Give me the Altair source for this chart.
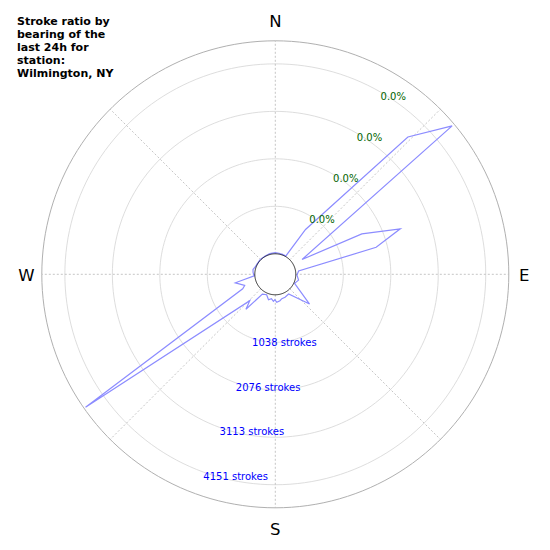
import altair as alt
import pandas as pd

# ---- data ----
bearings = [0, 10, 20, 30, 34, 44, 50, 61, 65, 70, 75, 82, 92, 104, 115, 131, 146,
            157, 165, 170, 177, 181, 184, 189, 195, 203, 213, 220, 224, 235, 246,
            250, 258, 266, 275, 282, 290, 300, 315, 330, 345, 360]
strokes = [25, 20, 15, 15, 734, 3723, 4597, 221, 1639, 2458, 1834, 66, 26, 76, 17, 544, 72,
           98, 103, 138, 164, 107, 144, 92, 127, 37, 70, 550, 355, 4615, 332,
           264, 446, 15, 40, 50, 20, 10, 15, 10, 20, 25]

ring_values = [1038, 2076, 3113, 4151]
ring_labels = ["1038 strokes", "2076 strokes", "3113 strokes", "4151 strokes"]
pct_labels = ["0.0%", "0.0%", "0.0%", "0.0%"]
compass_names = ["N", "E", "S", "W"]
compass_deg = [0, 90, 180, 270]
spoke_deg = [0, 45, 90, 135, 180, 225, 270, 315]
title_lines = ["Stroke ratio by", "bearing of the", "last 24h for", "station:", "Wilmington, NY"]

R_ORIGIN = 448      # radial offset of the centre (strokes)
R_MAX = 4655        # outer limit (strokes)
STROKE_LABEL_DEG = 200
PCT_LABEL_DEG = 30

# ---- geometry of the square plot area ----
W = 534
K = 233.5 / (R_MAX + R_ORIGIN)      # pixels per stroke unit
CX, CY = 267.3, 266.3               # centre within plot area
xdom = [-CX / K, (W - CX) / K]
ydom = [-(W - CY) / K, CY / K]

xs = alt.Scale(domain=xdom, nice=False, zero=False)
ys = alt.Scale(domain=ydom, nice=False, zero=False)

def polar_calc(ch, valfield, degfield):
    return ch.transform_calculate(
        rr=f"datum.{valfield} + {R_ORIGIN}"
    ).transform_calculate(
        x=f"datum.rr * sin(datum.{degfield} * PI / 180)",
        y=f"datum.rr * cos(datum.{degfield} * PI / 180)",
    )

# circles
circ_deg = list(range(0, 361, 2))
def circle_df(vals):
    return pd.DataFrame([{"v": v, "deg": d} for v in vals for d in circ_deg])

def circle_layer(vals, color, width):
    ch = alt.Chart(circle_df(vals)).mark_line(color=color, strokeWidth=width)
    ch = polar_calc(ch, "v", "deg")
    return ch.encode(
        x=alt.X("x:Q", scale=xs, axis=None),
        y=alt.Y("y:Q", scale=ys, axis=None),
        detail="v:N",
        order="deg:Q",
    )

grid_rings = circle_layer(ring_values, "#d4d4d4", 0.8)
outer_ring = circle_layer([R_MAX], "#b0b0b0", 1.0)
inner_ring = circle_layer([0], "#000000", 0.8)

# spokes
spokes = alt.Chart(pd.DataFrame({"deg": spoke_deg})).transform_calculate(
    x=f"{R_ORIGIN} * sin(datum.deg * PI / 180)",
    y=f"{R_ORIGIN} * cos(datum.deg * PI / 180)",
    x2=f"{R_MAX + R_ORIGIN} * sin(datum.deg * PI / 180)",
    y2=f"{R_MAX + R_ORIGIN} * cos(datum.deg * PI / 180)",
).mark_rule(color="#b8b8b8", strokeWidth=0.8, strokeDash=[2, 2]).encode(
    x=alt.X("x:Q", scale=xs, axis=None),
    y=alt.Y("y:Q", scale=ys, axis=None),
    x2="x2:Q",
    y2="y2:Q",
)

# data line
line_df = pd.DataFrame({"i": list(range(len(bearings))), "deg": bearings, "v": strokes})
data_line = polar_calc(
    alt.Chart(line_df).mark_line(color="#8c8cff", strokeWidth=1.2), "v", "deg"
).encode(
    x=alt.X("x:Q", scale=xs, axis=None),
    y=alt.Y("y:Q", scale=ys, axis=None),
    order="i:Q",
)

# radial labels
def ring_text(labels, deg, color):
    df = pd.DataFrame({"v": ring_values, "lab": labels, "deg": [deg] * len(labels)})
    ch = alt.Chart(df).mark_text(
        align="left", baseline="top", fontSize=10, font="DejaVu Sans", color=color
    )
    return polar_calc(ch, "v", "deg").encode(
        x=alt.X("x:Q", scale=xs, axis=None),
        y=alt.Y("y:Q", scale=ys, axis=None),
        text="lab:N",
    )

stroke_text = ring_text(ring_labels, STROKE_LABEL_DEG, "#0000ff")
pct_text = ring_text(pct_labels, PCT_LABEL_DEG, "#006400")

# compass labels
comp_df = pd.DataFrame({"lab": compass_names, "deg": compass_deg})
compass = alt.Chart(comp_df).transform_calculate(
    rr=f"(249 + 5 * abs(cos(datum.deg * PI / 180))) / {K}"
).transform_calculate(
    x="datum.rr * sin(datum.deg * PI / 180)",
    y="datum.rr * cos(datum.deg * PI / 180)",
).mark_text(fontSize=16.5, font="DejaVu Sans", color="#000000",
            align="center", baseline="middle", dy=2).encode(
    x=alt.X("x:Q", scale=xs, axis=None),
    y=alt.Y("y:Q", scale=ys, axis=None),
    text="lab:N",
)

# title block
title = alt.Chart(pd.DataFrame({"t": [0]})).mark_text(
    text=title_lines, align="left", baseline="alphabetic", fontSize=11,
    font="DejaVu Sans", fontWeight="bold", color="#000000", lineHeight=13,
).encode(x=alt.value(9), y=alt.value(16.7))

chart = alt.layer(
    grid_rings, spokes, outer_ring, data_line, inner_ring,
    stroke_text, pct_text, compass, title
).properties(
    width=W, height=W, padding=0, autosize=alt.AutoSizeParams(type="none")
).configure_view(stroke=None)

chart.save("out.html", embed_options={"renderer": "svg", "actions": False})
